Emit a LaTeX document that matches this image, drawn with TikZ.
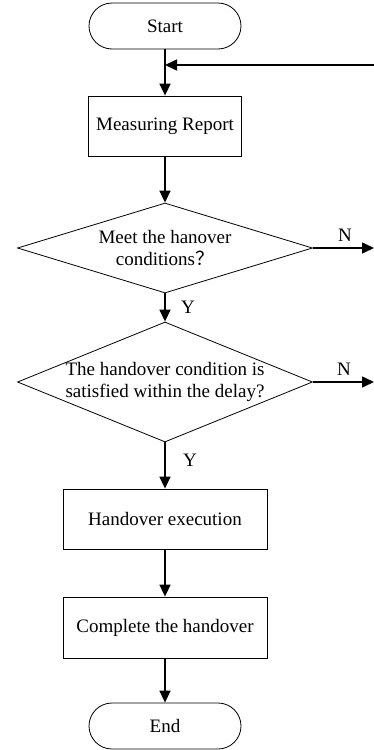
\documentclass[tikz,border=0pt]{standalone}
\usepackage{fontspec}
\setmainfont{Liberation Serif}
\newfontfamily\cjk{Noto Sans CJK SC}
\usetikzlibrary{shapes.geometric,arrows.meta}

\tikzset{
  termbox/.style={draw, line width=0.8pt, rounded corners=23pt, minimum width=152pt, minimum height=46pt, inner sep=0pt},
  procbox/.style={draw, line width=0.8pt, minimum height=60pt, inner sep=0pt},
  decbox/.style={draw, diamond, line width=0.8pt, inner sep=0pt, minimum width=295pt},
  flow/.style={line width=1.6pt, -{Triangle[length=12pt,width=11pt]}},
  yn/.style={inner sep=0pt}
}

\begin{document}
\begin{tikzpicture}[x=1pt, y=-1pt, font=\fontsize{19}{22}\selectfont]

  %% ==== nodes ====
  \node[termbox] (start) at (165,26) {Start};
  \node[procbox, minimum width=153pt] (meas) at (165,126) {Measuring Report};
  \node[decbox, minimum height=90pt, label={[align=center]center:Meet the hanover\\conditions{\cjk ？}}] (dec1) at (165,248) {};
  \node[decbox, minimum height=120pt, label={[align=center]center:The handover condition is\\satisfied within the delay?}] (dec2) at (165,382) {};
  \node[procbox, minimum width=204pt] (exec) at (165,519) {Handover execution};
  \node[procbox, minimum width=204pt, minimum height=61pt] (done) at (165,627.5) {Complete the handover};
  \node[termbox] (stop) at (165,726) {End};

  %% ==== loose ends ====
  \coordinate (back) at (374,65);
  \coordinate (join) at (start.south |- back);
  \coordinate (no1) at (374,248);
  \coordinate (no2) at (374,382);

  %% ==== connectors ====
  \draw[flow] (start) -- (meas);
  \draw[flow] (back) -- (join);
  \draw[flow] (meas) -- (dec1);
  \draw[flow] (dec1) -- (dec2);
  \draw[flow] (dec2) -- (exec);
  \draw[flow] (exec) -- (done);
  \draw[flow] (done) -- (stop);
  \draw[flow] (dec1.east) -- (no1);
  \draw[flow] (dec2.east) -- (no2);

  %% ==== branch labels ====
  \node[yn] (n1) at (345,235) {N};
  \node[yn] (n2) at (344,369) {N};
  \node[yn] (y1) at (188,307) {Y};
  \node[yn] (y2) at (190,460) {Y};

  \pgfresetboundingbox
  \path[use as bounding box] (0,0) rectangle (374,750);
\end{tikzpicture}
\end{document}
